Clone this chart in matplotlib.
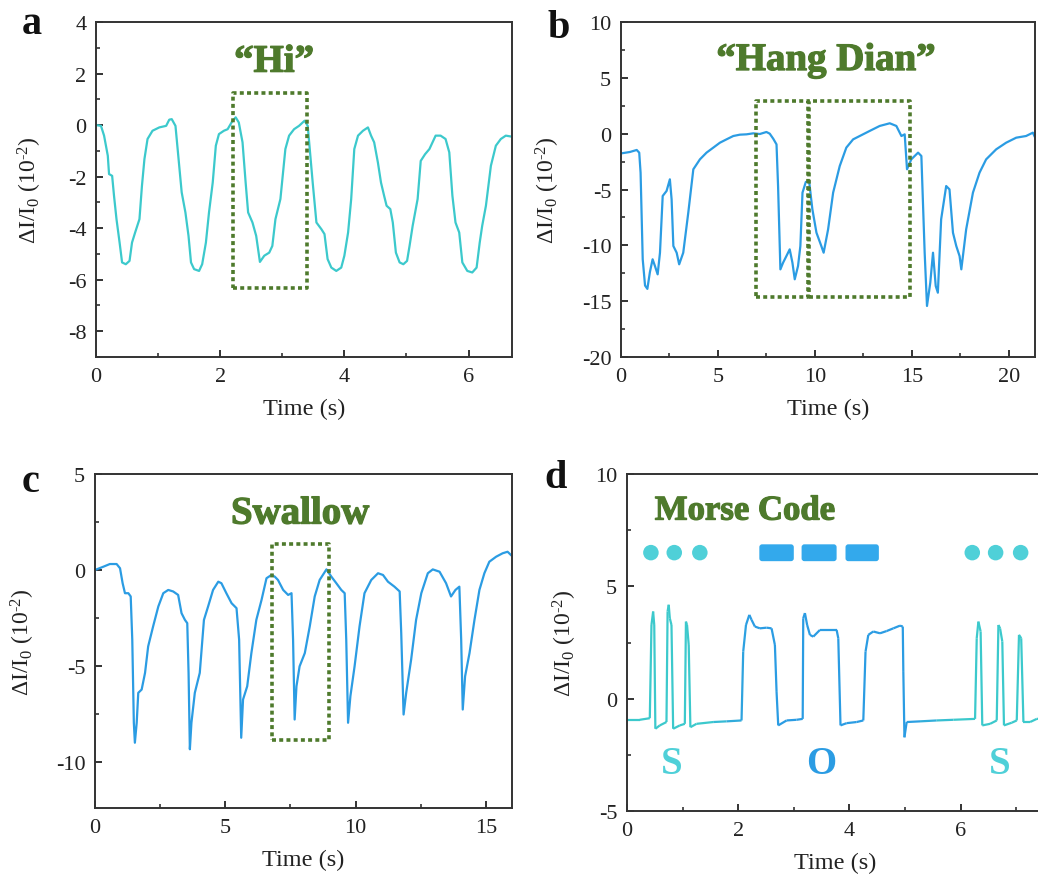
import numpy as np
import matplotlib
matplotlib.use("Agg")
import matplotlib.pyplot as plt
import matplotlib.patheffects as pe
from matplotlib.collections import LineCollection
from matplotlib.patches import FancyBboxPatch
from matplotlib.ticker import MultipleLocator
from matplotlib.colors import to_rgb

plt.rcParams['font.family'] = ['Liberation Serif', 'DejaVu Serif']
plt.rcParams['mathtext.fontset'] = 'custom'
plt.rcParams['mathtext.rm'] = 'Liberation Serif'
plt.rcParams['mathtext.it'] = 'Liberation Serif:italic'
plt.rcParams['axes.unicode_minus'] = False

# ---------------- data ----------------
# Panel a: "Hi"
a_t = [0, 0.08, 0.13, 0.19, 0.21, 0.26, 0.29, 0.33, 0.38, 0.42, 0.48, 0.54, 0.58, 0.63, 0.70, 0.74,
       0.78, 0.83, 0.91, 1.02, 1.13, 1.18, 1.22, 1.28, 1.33, 1.38, 1.44, 1.49, 1.53, 1.58, 1.66, 1.71,
       1.77, 1.82, 1.88, 1.93, 1.98, 2.06, 2.12, 2.20, 2.25, 2.30, 2.36, 2.41, 2.45, 2.52, 2.58, 2.64,
       2.71, 2.79, 2.84, 2.89, 2.97, 3.05, 3.11, 3.19, 3.27, 3.36, 3.41, 3.49, 3.55, 3.63, 3.68, 3.73,
       3.79, 3.87, 3.95, 4.0, 4.06, 4.11, 4.16, 4.22, 4.30, 4.38, 4.43, 4.48, 4.54, 4.59, 4.64, 4.68,
       4.74, 4.78, 4.83, 4.89, 4.95, 5.01, 5.05, 5.10, 5.18, 5.23, 5.30, 5.37, 5.42, 5.47, 5.55, 5.63,
       5.69, 5.74, 5.79, 5.85, 5.90, 5.98, 6.06, 6.13, 6.18, 6.22, 6.28, 6.36, 6.44, 6.52, 6.60, 6.70]
a_v = [0, -0.03, -0.41, -1.19, -1.9, -1.97, -2.74, -3.65, -4.56, -5.33, -5.4, -5.27, -4.56, -4.17, -3.65, -2.36,
       -1.32, -0.54, -0.22, -0.09, -0.03, 0.21, 0.23, -0.03, -1.32, -2.61, -3.39, -4.3, -5.33, -5.59, -5.66, -5.4,
       -4.56, -3.39, -2.23, -0.8, -0.35, -0.22, -0.16, 0.17, 0.3, 0.1, -0.67, -2.23, -3.39, -3.78, -4.3, -5.31,
       -5.07, -4.95, -4.69, -3.65, -2.87, -0.93, -0.41, -0.16, -0.03, 0.17, -0.03, -2.23, -3.78, -4.04, -4.23, -5.2,
       -5.53, -5.66, -5.53, -5.07, -4.17, -2.87, -0.93, -0.41, -0.22, -0.09, -0.41, -0.67, -1.45, -2.23, -2.74, -3.13,
       -3.26, -3.78, -4.95, -5.33, -5.4, -5.27, -4.69, -3.91, -2.87, -1.39, -1.13, -0.93, -0.67, -0.41, -0.41, -0.54,
       -1.06, -2.74, -3.78, -4.17, -5.33, -5.66, -5.72, -5.53, -4.56, -3.91, -3.13, -1.58, -0.8, -0.54, -0.41, -0.45]
a_box = [2.21, 3.40, -6.34, 1.24]  # x0, x1, y0, y1

# Panel b: "Hang Dian"
b_t = [0.03, 0.46, 0.81, 0.94, 1.01, 1.12, 1.24, 1.36, 1.49, 1.63, 1.75, 1.89, 2.01, 2.15, 2.35, 2.52,
       2.61, 2.70, 2.87, 3.0, 3.21, 3.47, 3.73, 4.07, 4.41, 4.76, 5.10, 5.44, 5.79, 6.13, 6.47, 6.82,
       7.16, 7.50, 7.67, 7.85, 8.02, 8.10, 8.22, 8.36, 8.53, 8.70, 8.84, 8.96, 9.13, 9.25, 9.36, 9.53,
       9.70, 9.87, 10.08, 10.33, 10.45, 10.68, 10.94, 11.28, 11.62, 11.97, 12.31, 12.82, 13.34, 13.86,
       14.20, 14.46, 14.63, 14.75, 14.97, 15.32, 15.49, 15.66, 15.78, 15.95, 16.09, 16.23, 16.34, 16.51,
       16.77, 16.94, 17.12, 17.29, 17.46, 17.55, 17.80, 18.15, 18.49, 18.83, 19.35, 19.86, 20.38, 20.89,
       21.24, 21.4]
b_v = [-1.76, -1.64, -1.46, -1.7, -3.5, -11.25, -13.6, -13.9, -12.4, -11.25, -11.85, -12.6, -10.66, -5.58, -5.13, -4.09,
       -5.88, -10.06, -10.66, -11.7, -10.66, -7.07, -3.19, -2.3, -1.7, -1.25, -0.81, -0.51, -0.21, -0.09, -0.06, 0.03,
       -0.03, 0.15, 0, -0.45, -0.96, -4.69, -12.15, -11.55, -10.96, -10.36, -11.55, -13.04, -11.85, -10.06, -5.28, -4.33,
       -4.24, -6.78, -8.87, -10.06, -10.66, -8.57, -5.28, -2.9, -1.25, -0.51, -0.21, 0.24, 0.69, 0.93,
       0.69, -0.21, -0.06, -3.19, -2.3, -1.7, -2.0, -10.66, -15.43, -13.34, -10.66, -13.64, -14.24, -7.67,
       -4.69, -4.99, -8.87, -10.06, -10.96, -12.15, -8.57, -5.28, -3.49, -2.3, -1.4, -0.81, -0.36, -0.21,
       0.09, -0.51]
b_boxes = [[6.95, 9.65, -14.6, 2.93], [9.70, 14.88, -14.6, 2.93]]

# Panel c: Swallow
c_t = [0, 0.32, 0.57, 0.83, 0.96, 1.06, 1.15, 1.28, 1.37, 1.43, 1.49, 1.53, 1.60, 1.66, 1.79, 1.92,
       2.04, 2.23, 2.43, 2.62, 2.81, 3.0, 3.19, 3.32, 3.45, 3.54, 3.59, 3.64, 3.70, 3.83, 4.02, 4.18,
       4.34, 4.53, 4.73, 4.85, 5.04, 5.24, 5.43, 5.53, 5.61, 5.68, 5.84, 6.0, 6.19, 6.39, 6.58, 6.77,
       6.90, 7.02, 7.22, 7.41, 7.54, 7.60, 7.66, 7.73, 7.85, 8.05, 8.24, 8.43, 8.62, 8.88, 9.07, 9.26,
       9.45, 9.58, 9.64, 9.71, 9.80, 9.96, 10.15, 10.34, 10.6, 10.86, 11.05, 11.24, 11.49, 11.69, 11.75,
       11.84, 11.94, 12.13, 12.32, 12.52, 12.77, 12.96, 13.22, 13.47, 13.66, 13.83, 13.98, 14.05, 14.11,
       14.20, 14.37, 14.56, 14.75, 14.94, 15.13, 15.39, 15.64, 15.83, 15.96]
c_v = [0, 0.17, 0.31, 0.31, 0.09, -0.69, -1.21, -1.21, -1.38, -3.63, -7.96, -9.0, -7.96, -6.4, -6.23, -5.36,
       -3.98, -2.94, -1.9, -1.21, -1.04, -1.12, -1.3, -2.25, -2.6, -2.77, -5.36, -9.34, -7.96, -6.4, -5.36, -2.6,
       -1.9, -1.04, -0.61, -0.69, -1.21, -1.73, -1.99, -3.63, -8.74, -6.75, -6.06, -4.33, -2.6, -1.56, -0.43, -0.26,
       -0.35, -0.52, -1.04, -1.3, -1.21, -3.63, -7.79, -6.06, -5.02, -4.33, -2.94, -1.38, -0.52, 0.03, -0.35, -0.69,
       -1.04, -1.21, -3.63, -7.96, -6.57, -5.02, -2.94, -1.21, -0.52, -0.17, -0.26, -0.61, -0.87, -1.12, -3.29,
       -7.53, -6.4, -4.67, -2.6, -1.21, -0.17, 0.03, -0.09, -0.69, -1.38, -1.04, -0.87, -3.63, -7.27,
       -5.54, -4.33, -2.6, -1.04, -0.17, 0.43, 0.69, 0.87, 0.95, 0.78]
c_box = [6.81, 8.98, -8.88, 1.35]

# Panel d: Morse code "SOS"
d_t = [0, 0.23, 0.41, 0.44, 0.47, 0.49, 0.51, 0.59, 0.71, 0.73, 0.75, 0.77, 0.80, 0.83, 0.95, 1.04,
       1.06, 1.08, 1.11, 1.14, 1.25, 1.55, 1.79, 2.06, 2.09, 2.14, 2.20, 2.24, 2.30, 2.39, 2.51, 2.60,
       2.66, 2.69, 2.72, 2.87, 3.05, 3.16, 3.17, 3.20, 3.24, 3.29, 3.35, 3.47, 3.65, 3.77, 3.80, 3.84,
       3.95, 4.13, 4.25, 4.29, 4.34, 4.43, 4.55, 4.67, 4.79, 4.91, 4.96, 4.97, 4.99, 5.03, 5.27, 5.57,
       5.87, 6.26, 6.29, 6.32, 6.36, 6.39, 6.53, 6.65, 6.68, 6.71, 6.75, 6.78, 6.92, 7.01, 7.05, 7.09,
       7.13, 7.25, 7.37, 7.5]
d_v = [-0.94, -0.94, -0.87, 3.28, 3.88, 3.28, -1.34, -1.19, -1.04, 3.88, 4.18, 3.58, 3.28, -1.34, -1.19, -1.12,
       3.43, 3.28, 2.39, -1.27, -1.12, -1.04, -1.01, -0.97, 2.09, 3.28, 3.73, 3.51, 3.21, 3.13, 3.16, 3.13,
       2.39, 0.3, -1.19, -0.97, -0.94, -0.9, 3.58, 3.81, 3.28, 2.84, 2.76, 3.06, 3.06, 3.06, 2.69, -1.19,
       -1.09, -1.04, -0.97, 2.09, 2.84, 2.99, 2.91, 3.01, 3.13, 3.25, 3.21, 1.19, -1.72, -1.04, -1.01, -0.97,
       -0.94, -0.9, 2.69, 3.43, 2.99, -1.19, -1.12, -0.97, 3.28, 3.13, 2.54, -1.19, -1.07, -0.97, 2.84, 2.69,
       -1.04, -1.04, -0.9, -0.88]
dot_x = [0.43, 0.85, 1.31, 6.21, 6.63, 7.08]
dot_y = [6.5, 6.5, 6.5, 6.5, 6.5, 6.5]
dash_x0 = [2.38, 3.14, 3.93]
dash_x1 = [3.00, 3.77, 4.53]
dash_y0 = 6.12
dash_y1 = 6.87
letters = ['S', 'O', 'S']
letter_x = [0.8, 3.5, 6.7]
letter_y = -2.9

# ---------------- style ----------------
TURQ = '#3cc9cc'
BLUE = '#2b9ce3'
GREEN = '#4e7a2c'
SPINE = '#333333'
YLABEL = '$\\Delta$I/I$_0$ (10$^{\u20102}$)'

W, H = 1038, 887
fig = plt.figure(figsize=(W / 100, H / 100), dpi=100)
bold_fx = [pe.Stroke(linewidth=0.9, foreground=GREEN), pe.Normal()]


def make_ax(l, t, r, b):
    ax = fig.add_axes([l / W, 1 - b / H, (r - l) / W, (b - t) / H])
    for s in ax.spines.values():
        s.set_linewidth(1.4)
        s.set_color(SPINE)
    ax.tick_params(which='both', direction='in', top=False, right=False,
                   labelsize=16, colors=SPINE, labelcolor='#222222', pad=7)
    ax.tick_params(which='major', length=5, width=1.4)
    ax.tick_params(which='minor', length=3, width=1.2)
    ax.set_xlabel('Time (s)', fontsize=17.5, color='#222222', labelpad=9)
    ax.set_ylabel(YLABEL, fontsize=17, color='#222222')
    return ax


def dotted_box(ax, box):
    x0, x1, y0, y1 = box
    ax.plot([x0, x1, x1, x0, x0], [y0, y0, y1, y1, y0], color=GREEN, lw=2.6,
            dashes=(1.1, 0.9), solid_capstyle='butt', dash_capstyle='butt', zorder=3)


def green_text(ax, x, y, s, size, ha='center'):
    ax.text(x, y, s, transform=ax.transAxes, ha=ha, va='center', fontsize=size,
            fontweight='bold', color=GREEN, path_effects=bold_fx)


# Panel a
axa = make_ax(96, 23, 512, 358)
axa.plot(a_t, a_v, color=TURQ, lw=1.6)
dotted_box(axa, a_box)
axa.set_xlim(0, 6.7)
axa.set_ylim(-9, 4)
axa.xaxis.set_major_locator(MultipleLocator(2))
axa.xaxis.set_minor_locator(MultipleLocator(1))
axa.yaxis.set_major_locator(MultipleLocator(2))
axa.yaxis.set_minor_locator(MultipleLocator(1))
green_text(axa, 0.428, 0.88, '\u201cHi\u201d', 28)
axa.yaxis.set_label_coords(-0.125, 0.5)
fig.text(22 / W, 1 - 34 / H, 'a', fontsize=29, fontweight='bold', color='#111111')

# Panel b
axb = make_ax(621, 23, 1035, 358)
axb.plot(b_t, b_v, color=BLUE, lw=1.6)
for bx in b_boxes:
    dotted_box(axb, bx)
axb.set_xlim(0, 21.35)
axb.set_ylim(-20, 10)
axb.xaxis.set_major_locator(MultipleLocator(5))
axb.xaxis.set_minor_locator(MultipleLocator(2.5))
axb.yaxis.set_major_locator(MultipleLocator(5))
axb.yaxis.set_minor_locator(MultipleLocator(2.5))
green_text(axb, 0.495, 0.885, '\u201cHang Dian\u201d', 28)
axb.yaxis.set_label_coords(-0.143, 0.5)
fig.text(548 / W, 1 - 38 / H, 'b', fontsize=29, fontweight='bold', color='#111111')

# Panel c
axc = make_ax(95, 475, 512, 809)
axc.plot(c_t, c_v, color=BLUE, lw=1.6)
dotted_box(axc, c_box)
axc.set_xlim(0, 16)
axc.set_ylim(-12.4, 5)
axc.xaxis.set_major_locator(MultipleLocator(5))
axc.xaxis.set_minor_locator(MultipleLocator(2.5))
axc.yaxis.set_major_locator(MultipleLocator(5))
axc.yaxis.set_minor_locator(MultipleLocator(2.5))
green_text(axc, 0.492, 0.88, 'Swallow', 28)
axc.yaxis.set_label_coords(-0.14, 0.5)
fig.text(22 / W, 1 - 492 / H, 'c', fontsize=29, fontweight='bold', color='#111111')

# Panel d
axd = make_ax(627, 475, 1044, 812)
pts = np.column_stack([d_t, d_v])
segs = np.stack([pts[:-1], pts[1:]], axis=1)
c_turq = np.array(to_rgb(TURQ))
c_blue = np.array(to_rgb(BLUE))
mids = 0.5 * (pts[:-1, 0] + pts[1:, 0])
w = np.clip(np.minimum((mids - 1.4) / 0.8, (5.9 - mids) / 0.8), 0, 1)
cols = (1 - w)[:, None] * c_turq + w[:, None] * c_blue
lc = LineCollection(segs, colors=cols, linewidths=1.6)
axd.add_collection(lc)
axd.scatter(dot_x, dot_y, s=125, color='#4fd0d8', edgecolors='none', zorder=3)
for x0, x1 in zip(dash_x0, dash_x1):
    p = FancyBboxPatch((x0, dash_y0), x1 - x0, dash_y1 - dash_y0,
                       boxstyle='round,pad=0,rounding_size=0.05', mutation_aspect=2.5,
                       facecolor='#33a9ec', edgecolor='none', zorder=3)
    axd.add_patch(p)
for lt, lx in zip(letters, letter_x):
    axd.text(lx, letter_y, lt, ha='center', va='center', fontsize=28, fontweight='bold',
             color=(BLUE if lt == 'O' else '#4fd0d8'))
axd.text(0.5, 8.35, 'Morse Code', ha='left', va='center', fontsize=25, fontweight='bold',
         color=GREEN, path_effects=bold_fx)
axd.set_xlim(0, 7.5)
axd.set_ylim(-5, 10)
axd.xaxis.set_major_locator(MultipleLocator(2))
axd.xaxis.set_minor_locator(MultipleLocator(1))
axd.yaxis.set_major_locator(MultipleLocator(5))
axd.yaxis.set_minor_locator(MultipleLocator(2.5))
axd.yaxis.set_label_coords(-0.115, 0.5)
fig.text(544 / W, 1 - 488 / H, 'd', fontsize=29, fontweight='bold', color='#111111')

fig.savefig('out.png', dpi=100, facecolor='white')
